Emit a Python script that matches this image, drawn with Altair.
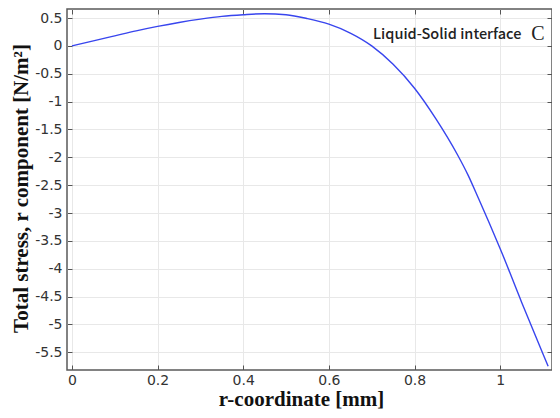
import altair as alt
import pandas as pd

# data
r_mm = [0.0, 0.05, 0.1, 0.15, 0.2, 0.25, 0.3, 0.35, 0.4, 0.45, 0.5, 0.55,
        0.6, 0.65, 0.7, 0.75, 0.8, 0.85, 0.9, 0.925, 0.95, 0.975, 1.0, 1.05, 1.1, 1.112]
stress = [0.0, 0.09, 0.18, 0.27, 0.35, 0.42, 0.48, 0.53, 0.56, 0.578, 0.56, 0.49,
          0.39, 0.23, 0.0, -0.33, -0.76, -1.31, -1.95, -2.32, -2.75, -3.19, -3.64, -4.60, -5.53, -5.75]
x_ticks = [0, 0.2, 0.4, 0.6, 0.8, 1]
y_ticks = [0.5, 0, -0.5, -1, -1.5, -2, -2.5, -3, -3.5, -4, -4.5, -5, -5.5]
x_title = "r-coordinate [mm]"
y_title = "Total stress, r component [N/m²]"
label_text = "Liquid-Solid interface"
panel_letter = "C"

W, H = 485, 361
df = pd.DataFrame({"r": r_mm, "s": stress})
xs = alt.Scale(domain=[-0.0115, 1.121], nice=False, zero=False)
ys = alt.Scale(domain=[-5.818, 0.662], nice=False, zero=False)

lab = dict(labelFont="DejaVu Sans", labelFontSize=14, labelColor="#333333",
           labelExpr="toString(datum.value)")
ttl = dict(titleFont="Liberation Serif", titleFontWeight="bold", titleColor="#111111")

main = alt.Chart(df).mark_line(color="#3845ee", strokeWidth=1.4, interpolate="monotone").encode(
    x=alt.X("r:Q", scale=xs, axis=alt.Axis(
        values=x_ticks, orient="bottom", title=x_title, tickSize=0, domain=False,
        grid=True, gridColor="#e8e8e8", labelPadding=3, titleFontSize=21,
        titleX=234, titleY=35, titleBaseline="alphabetic", **lab, **ttl)),
    y=alt.Y("s:Q", scale=ys, axis=alt.Axis(
        values=y_ticks, orient="left", title=y_title, tickSize=0, domain=False,
        grid=True, gridColor="#e8e8e8", labelPadding=5, titleFontSize=21,
        titleX=-46, titleY=179, titleBaseline="middle", titleAlign="center", **lab, **ttl)),
)

ticks_a = alt.Chart(df).mark_line(opacity=0).encode(
    x=alt.X("r:Q", scale=xs, axis=alt.Axis(
        values=x_ticks, orient="top", offset=-H, labels=False, title=None,
        domain=False, grid=False, tickSize=5, tickColor="#555555")),
    y=alt.Y("s:Q", scale=ys, axis=alt.Axis(
        values=y_ticks, orient="right", offset=-W, labels=False, title=None,
        domain=False, grid=False, tickSize=5, tickColor="#555555")),
)

ticks_b = alt.Chart(df).mark_line(opacity=0).encode(
    x=alt.X("r:Q", scale=xs, axis=alt.Axis(
        values=x_ticks, orient="bottom", offset=-H, labels=False, title=None,
        domain=False, grid=False, tickSize=5, tickColor="#555555")),
    y=alt.Y("s:Q", scale=ys, axis=alt.Axis(
        values=y_ticks, orient="left", offset=-W, labels=False, title=None,
        domain=False, grid=False, tickSize=5, tickColor="#555555")),
)

txt_df = pd.DataFrame({"t": [label_text]})
txt = alt.Chart(txt_df).mark_text(
    font="Noto Sans CJK SC", fontSize=14.5, fontWeight=500, color="#222222",
    align="left", baseline="alphabetic"
).encode(text="t:N", x=alt.value(306), y=alt.value(30))

c_df = pd.DataFrame({"t": [panel_letter]})
ctxt = alt.Chart(c_df).mark_text(
    font="Liberation Serif", fontSize=20, color="#222222",
    align="center", baseline="alphabetic"
).encode(text="t:N", x=alt.value(471), y=alt.value(31))

chart = alt.layer(main, ticks_a, ticks_b, txt, ctxt).resolve_axis(
    x="independent", y="independent"
).properties(
    width=W, height=H,
    autosize=alt.AutoSizeParams(type="none"),
    padding={"left": 59, "top": 1, "right": 0, "bottom": 40},
).configure_view(stroke="#5a5a5a", strokeWidth=1.5)

chart.save("out.html", embed_options={"renderer": "svg", "actions": False})
